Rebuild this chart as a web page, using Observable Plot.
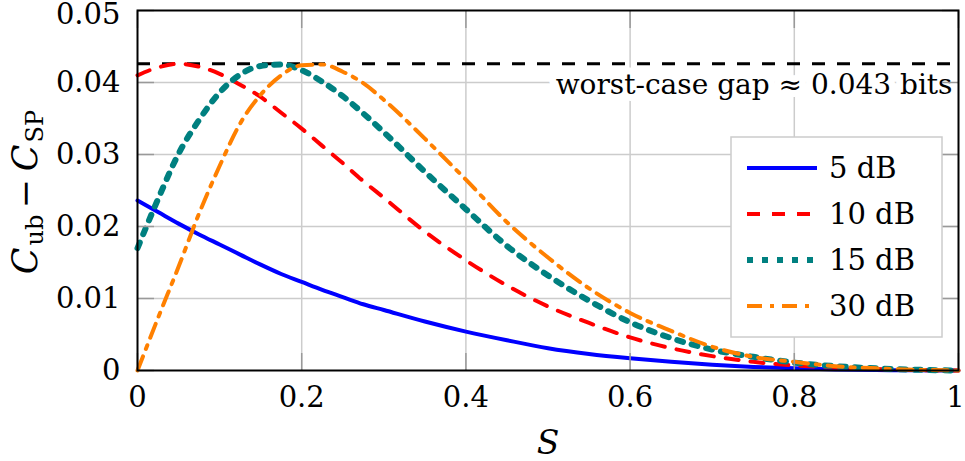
<!DOCTYPE html>
<html>
<head>
<meta charset="utf-8">
<script src="https://cdn.jsdelivr.net/npm/d3@7"></script>
<script src="https://cdn.jsdelivr.net/npm/@observablehq/plot@0.6"></script>
<style>
  body { margin: 0; background: #fff; }
</style>
</head>
<body>
<div id="chart"></div>
<script>
// Capacity gap C_ub - C_SP versus S, for four SNR values
const sValues = [0, 0.025, 0.05, 0.075, 0.1, 0.125, 0.15, 0.175, 0.2, 0.225, 0.25, 0.275, 0.3,
  0.35, 0.4, 0.45, 0.5, 0.55, 0.6, 0.65, 0.7, 0.75, 0.8, 0.85, 0.9, 0.95, 1];

const gap5dB = [0.0236, 0.0220, 0.0204, 0.0189, 0.0175, 0.0161, 0.0147, 0.0134, 0.0123, 0.0112,
  0.0102, 0.0092, 0.0084, 0.0068, 0.0054, 0.0042, 0.0031, 0.0023, 0.0017, 0.0012, 0.0008,
  0.0005, 0.0003, 0.00015, 0.00007, 0.00002, 0];

const gap10dB = [0.0410, 0.0421, 0.0426, 0.0422, 0.0412, 0.0397, 0.0380, 0.0358, 0.0336, 0.0312,
  0.0288, 0.0263, 0.0240, 0.0193, 0.0153, 0.0118, 0.0089, 0.0066, 0.0046, 0.0031, 0.0020,
  0.0012, 0.0007, 0.0004, 0.0002, 0.00005, 0];

const gap15dB = [0.0170, 0.0238, 0.0301, 0.0348, 0.0386, 0.0411, 0.0423, 0.0425, 0.0417, 0.0401,
  0.0381, 0.0357, 0.0331, 0.0276, 0.0224, 0.0173, 0.0132, 0.0097, 0.0067, 0.0045, 0.0029,
  0.0019, 0.0011, 0.0006, 0.0003, 0.0001, 0];

const gap30dB = [0, 0.0073, 0.0144, 0.0218, 0.0284, 0.0343, 0.0383, 0.0410, 0.0424, 0.0425,
  0.0415, 0.0399, 0.0376, 0.0322, 0.0265, 0.0206, 0.0157, 0.0114, 0.0080, 0.0055, 0.0033,
  0.0019, 0.0012, 0.0006, 0.0003, 0.0001, 0];

const seriesNames = ["5 dB", "10 dB", "15 dB", "30 dB"];
const seriesValues = [gap5dB, gap10dB, gap15dB, gap30dB];

const xTicks = [0, 0.2, 0.4, 0.6, 0.8, 1];
const yTicks = [0, 0.01, 0.02, 0.03, 0.04, 0.05];
const xGrid = [0.2, 0.4, 0.6, 0.8];
const yGrid = [0.01, 0.02, 0.03, 0.04];

// worst-case gap over all curves
const worstGap = 0.0426;
const worstGapLabel = `worst-case gap ≈ ${d3.format(".3f")(worstGap)} bits`;

// line styles, one per series
const seriesStyles = [
  { stroke: "#0000ff", strokeWidth: 4 },
  { stroke: "#ff0000", strokeWidth: 4, strokeDasharray: "13,12" },
  { stroke: "#008080", strokeWidth: 6, strokeDasharray: "6,9" },
  { stroke: "#ff8000", strokeWidth: 4, strokeDasharray: "15,8,4,8" }
];

const rows = seriesNames.map((name, i) =>
  sValues.map((s, j) => ({ series: name, S: s, gap: seriesValues[i][j] })));

const FONT = "'DejaVu Serif', 'Liberation Serif', serif";
const TICK_FONT = 29;
const topTick = yTicks[yTicks.length - 1];
const lastTick = xTicks[xTicks.length - 1];
const tickLabel = d => String(d);

const svg = Plot.plot({
  width: 965,
  height: 461,
  marginLeft: 137,
  marginRight: 7,
  marginTop: 10,
  marginBottom: 91,
  style: { fontFamily: FONT, fontSize: `${TICK_FONT}px`, color: "black", background: "white" },
  x: { domain: [0, 1], label: null },
  y: { domain: [0, 0.05], label: null },
  marks: [
    Plot.gridX(xGrid, { stroke: "#cccccc", strokeOpacity: 1, strokeWidth: 1.5 }),
    Plot.gridY(yGrid, { stroke: "#cccccc", strokeOpacity: 1, strokeWidth: 1.5 }),
    // annotation with a white halo that interrupts the grid behind it
    Plot.text([worstGap], {
      y: d => d, frameAnchor: "right", text: () => worstGapLabel,
      textAnchor: "end", lineAnchor: "bottom", dx: -6, dy: 30,
      fontSize: 28, fill: "black", stroke: "white", strokeWidth: 14
    }),
    Plot.ruleY([worstGap], { stroke: "black", strokeWidth: 3, strokeDasharray: "13,12" }),
    ...rows.map((data, i) => Plot.line(data, {
      x: "S", y: "gap", curve: "monotone-x", ...seriesStyles[i]
    })),
    // inward tick marks on all four sides
    Plot.axisX(xTicks, { anchor: "bottom", tickSize: -17, tickFormat: () => "", stroke: "#999", strokeWidth: 1.5 }),
    Plot.axisX(xTicks, { anchor: "top", tickSize: -17, tickFormat: () => "", stroke: "#999", strokeWidth: 1.5 }),
    Plot.axisY(yTicks, { anchor: "left", tickSize: -17, tickFormat: () => "", stroke: "#999", strokeWidth: 1.5 }),
    Plot.axisY(yTicks, { anchor: "right", tickSize: -17, tickFormat: () => "", stroke: "#999", strokeWidth: 1.5 }),
    // tick labels (the outermost ones nudged inside the canvas)
    Plot.axisX(xTicks.filter(d => d !== lastTick), { anchor: "bottom", tickSize: 0, tickPadding: 16, fontSize: TICK_FONT, tickFormat: tickLabel }),
    Plot.axisX([lastTick], { anchor: "bottom", tickSize: 0, tickPadding: 16, fontSize: TICK_FONT, dx: -3, tickFormat: tickLabel }),
    Plot.axisY(yTicks.filter(d => d !== topTick), { anchor: "left", tickSize: 0, tickPadding: 17, fontSize: TICK_FONT, tickFormat: tickLabel }),
    Plot.axisY([topTick], { anchor: "left", tickSize: 0, tickPadding: 17, fontSize: TICK_FONT, dy: 4, tickFormat: tickLabel }),
    Plot.text(["S"], { frameAnchor: "bottom", lineAnchor: "bottom", dy: 83, fontSize: 33, fontStyle: "italic", fill: "black" }),
    Plot.frame({ stroke: "black", strokeWidth: 2 })
  ]
});

const root = d3.select(svg);

// y-axis label: C_ub − C_SP
const yLabel = root.append("text")
  .attr("transform", "translate(37,192) rotate(-90)")
  .attr("text-anchor", "middle")
  .attr("font-family", FONT)
  .attr("font-size", 35)
  .attr("fill", "black");
yLabel.append("tspan").attr("font-style", "italic").text("C");
yLabel.append("tspan").attr("font-size", 24).attr("dx", 2).attr("dy", 6).text("ub");
yLabel.append("tspan").attr("dx", 6).attr("dy", -6).text("−");
yLabel.append("tspan").attr("font-style", "italic").attr("dx", 8).text("C");
yLabel.append("tspan").attr("font-size", 24).attr("dx", 2).attr("dy", 6).text("SP");

// legend box
const legend = root.append("g")
  .attr("font-family", FONT).attr("font-size", TICK_FONT).attr("text-anchor", "start");
legend.append("rect")
  .attr("x", 731).attr("y", 137).attr("width", 211).attr("height", 200)
  .attr("fill", "white").attr("stroke", "#cccccc").attr("stroke-width", 1.5);
seriesNames.forEach((name, i) => {
  const cy = 168 + i * 46;
  const st = seriesStyles[i];
  legend.append("line")
    .attr("x1", 747).attr("x2", 817).attr("y1", cy).attr("y2", cy)
    .attr("stroke", st.stroke).attr("stroke-width", st.strokeWidth)
    .attr("stroke-dasharray", st.strokeDasharray || null);
  legend.append("text")
    .attr("x", 829).attr("y", cy + 10).attr("fill", "black")
    .attr("text-anchor", "start").text(name);
});

document.getElementById("chart").append(svg);
</script>
</body>
</html>
